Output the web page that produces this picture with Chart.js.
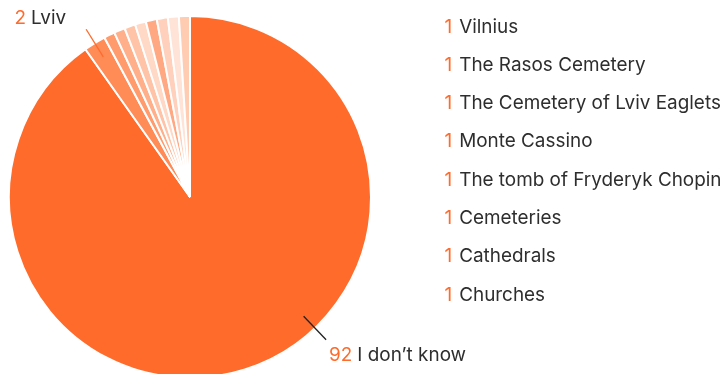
<!DOCTYPE html>
<html>
<head>
<meta charset="utf-8">
<script src="https://cdn.jsdelivr.net/npm/chart.js@4.4.1/dist/chart.umd.min.js"></script>
<style>
  html, body { margin: 0; padding: 0; background: #ffffff; overflow: hidden; }
  #wrap { position: absolute; left: 0; top: 0; width: 725px; height: 390px; }
</style>
</head>
<body>
<div id="wrap"><canvas id="pie" width="725" height="390"></canvas></div>
<script>
// Answers and how many people gave each one
const categories = [
  "I don\u2019t know",
  "Lviv",
  "Vilnius",
  "The Rasos Cemetery",
  "The Cemetery of Lviv Eaglets",
  "Monte Cassino",
  "The tomb of Fryderyk Chopin",
  "Cemeteries",
  "Cathedrals",
  "Churches"
];
const counts = [92, 2, 1, 1, 1, 1, 1, 1, 1, 1];
const sliceColors = [
  "#ff6b2b", "#ff8b57", "#ff9b6c", "#ffb08b", "#ffc4a8",
  "#ffd8c6", "#ffa881", "#ffd0bb", "#ffe3d6", "#ffcbb1"
];

const ORANGE = "#ff6b2b";
const INK = "#2e2e2e";
const FONT = "18.9px Inter, Roboto, sans-serif";

// Slices that get a callout next to the pie: index, position along the arc (0..1),
// colour of the leader line and which side the text sits on.
const callouts = [
  { index: 0, along: 0.42, line: "#222222", side: "right" },
  { index: 1, along: 0.5, line: ORANGE, side: "left" }
];

// Text list on the right for the single-answer slices
const listPlugin = {
  id: "answerList",
  afterDraw(chart) {
    const ctx = chart.ctx;
    ctx.save();
    ctx.font = FONT;
    ctx.textBaseline = "alphabetic";
    const x0 = 444.5, y0 = 32.5, step = 38.3, gap = 7;
    for (let i = 2; i < categories.length; i++) {
      const y = y0 + (i - 2) * step;
      const num = String(counts[i]);
      ctx.fillStyle = ORANGE;
      ctx.textAlign = "left";
      ctx.fillText(num, x0, y);
      const w = ctx.measureText(num).width + gap;
      ctx.fillStyle = INK;
      ctx.fillText(categories[i], x0 + w, y);
    }
    ctx.restore();
  }
};

// Leader lines with value + name beside them
const calloutPlugin = {
  id: "callouts",
  afterDraw(chart) {
    const ctx = chart.ctx;
    const arcs = chart.getDatasetMeta(0).data;
    ctx.save();
    ctx.font = FONT;
    ctx.textBaseline = "alphabetic";
    callouts.forEach(c => {
      const a = arcs[c.index];
      const ang = a.startAngle + (a.endAngle - a.startAngle) * c.along;
      const r = a.outerRadius;
      const x1 = a.x + Math.cos(ang) * r * 0.91;
      const y1 = a.y + Math.sin(ang) * r * 0.91;
      const x2 = a.x + Math.cos(ang) * r * 1.09;
      const y2 = a.y + Math.sin(ang) * r * 1.09;
      ctx.strokeStyle = c.line;
      ctx.lineWidth = 1.3;
      ctx.beginPath();
      ctx.moveTo(x1, y1);
      ctx.lineTo(x2, y2);
      ctx.stroke();

      const num = String(counts[c.index]);
      const name = categories[c.index];
      const wNum = ctx.measureText(num).width + 5;
      const wName = ctx.measureText(name).width;
      let tx, ty;
      if (c.side === "right") {
        tx = x2 + 3;
        ty = y2 + 21;
      } else {
        tx = x2 - 20 - wNum - wName;
        ty = y2 - 5;
      }
      ctx.textAlign = "left";
      ctx.fillStyle = ORANGE;
      ctx.fillText(num, tx, ty);
      ctx.fillStyle = INK;
      ctx.fillText(name, tx + wNum, ty);
    });
    ctx.restore();
  }
};

new Chart(document.getElementById("pie"), {
  type: "pie",
  data: {
    labels: categories,
    datasets: [{
      data: counts,
      backgroundColor: sliceColors,
      borderColor: "#ffffff",
      borderWidth: 2,
      hoverOffset: 0
    }]
  },
  options: {
    responsive: false,
    animation: false,
    devicePixelRatio: 1,
    layout: { padding: { left: 8, top: 15, right: 353, bottom: 11 } },
    plugins: {
      legend: { display: false },
      tooltip: { enabled: false }
    }
  },
  plugins: [listPlugin, calloutPlugin]
});
</script>
</body>
</html>
